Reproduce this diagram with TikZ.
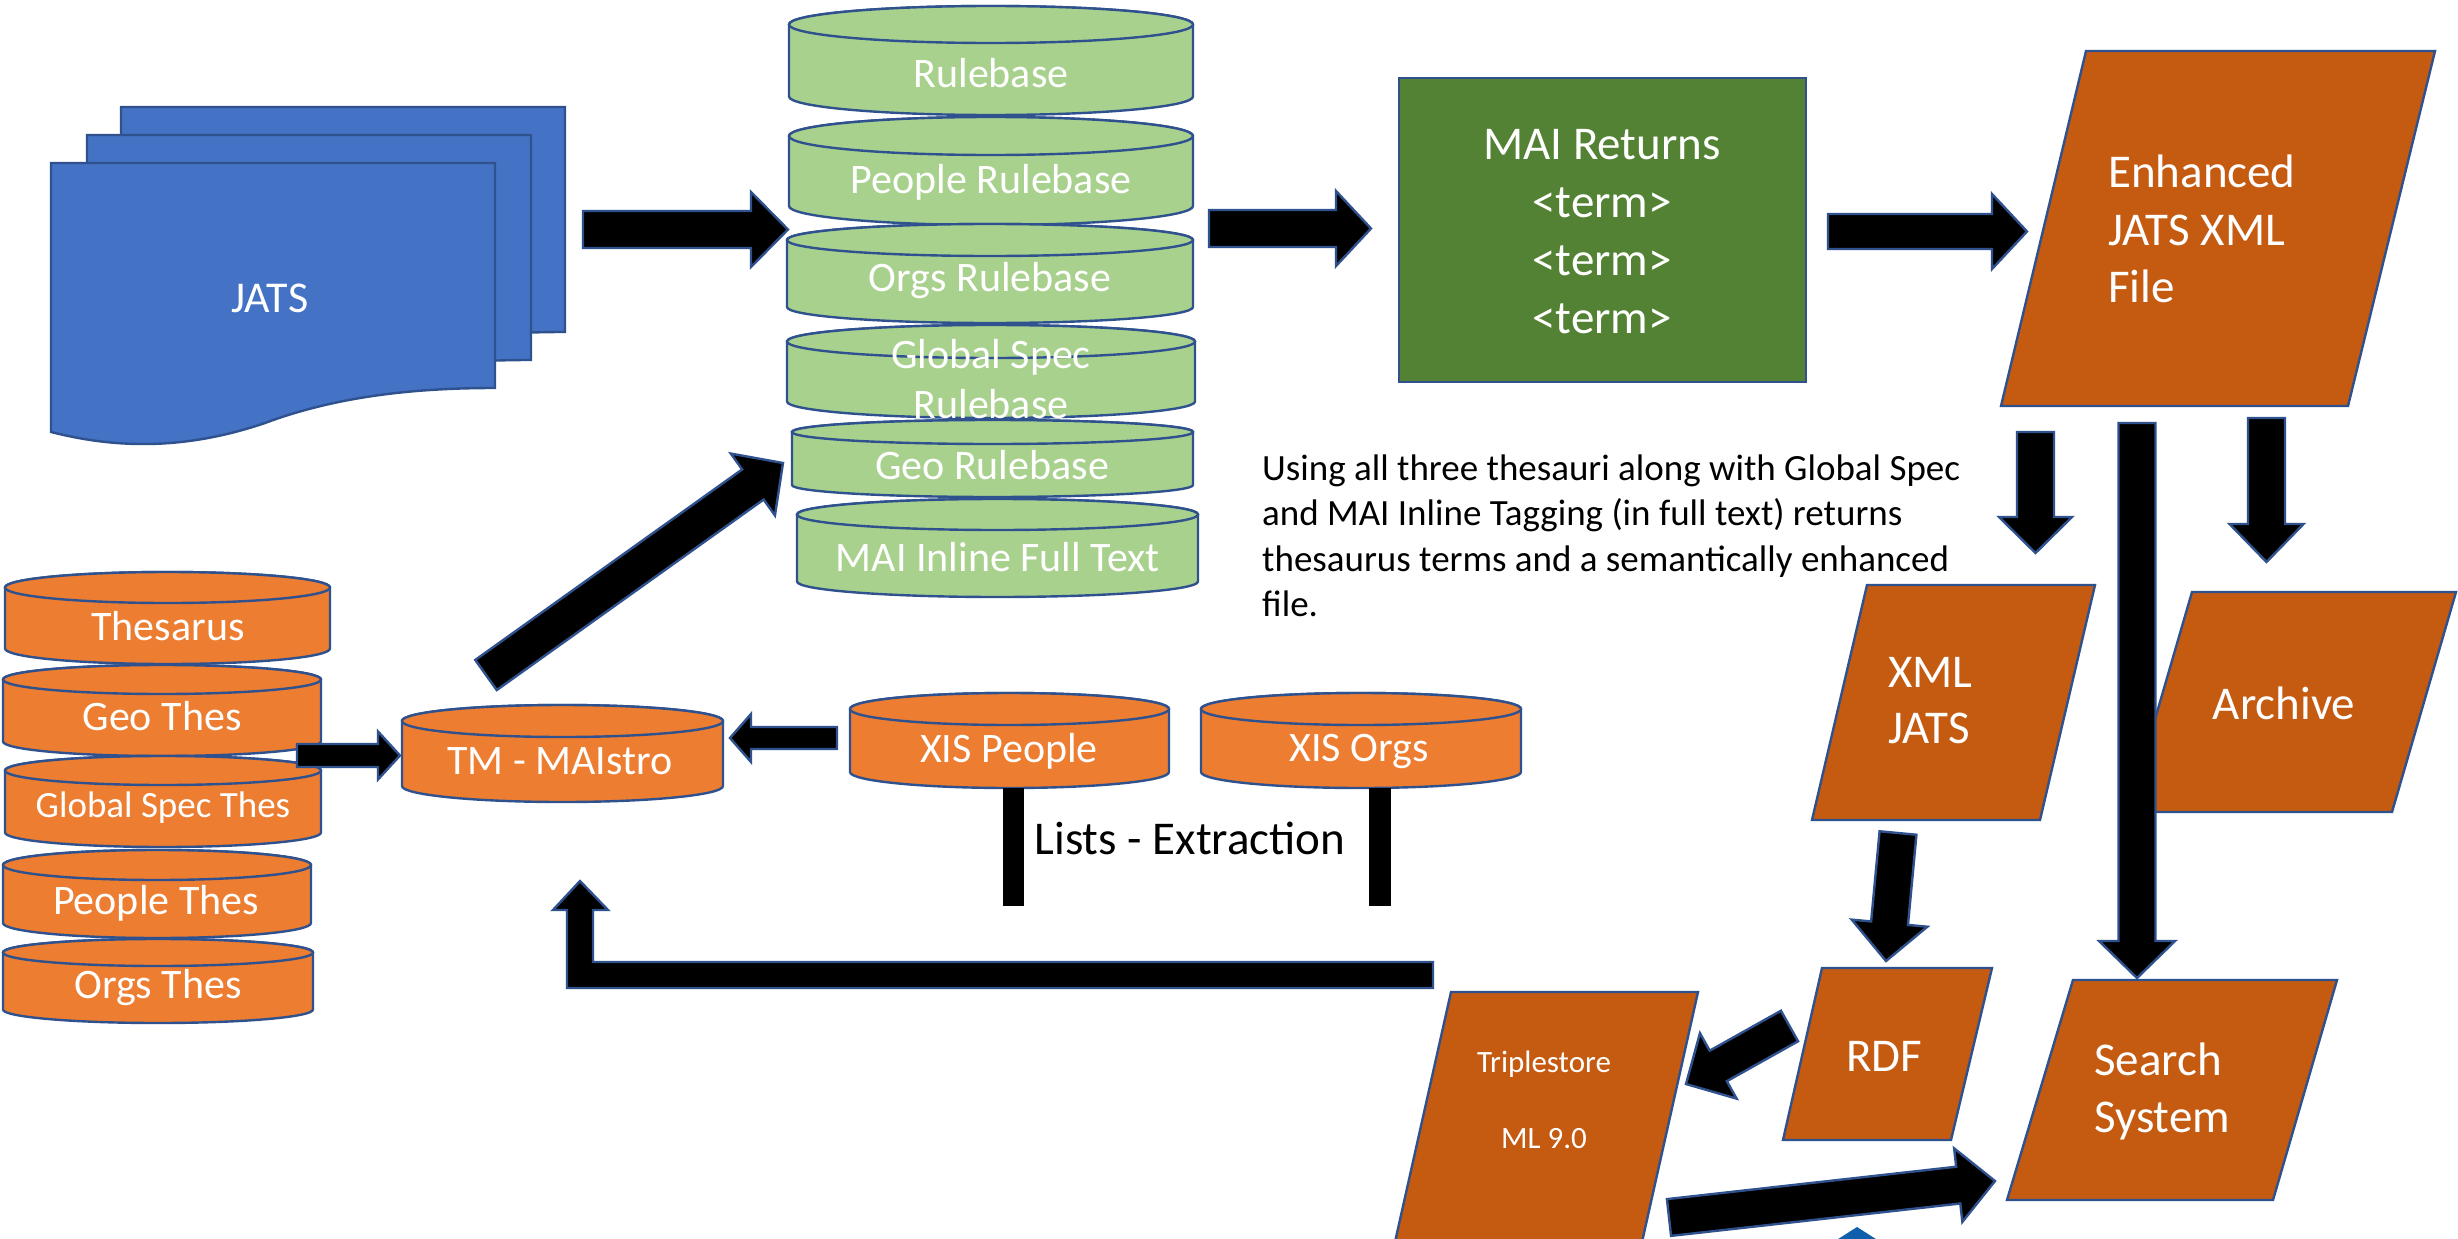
\documentclass[tikz,border=0pt]{standalone}
\usepackage{fontspec}
\setmainfont{Carlito}
\usetikzlibrary{calc}
\definecolor{jblue}{HTML}{4472C4}
\definecolor{oline}{HTML}{2F528F}
\definecolor{lgreen}{HTML}{A9D18E}
\definecolor{dgreen}{HTML}{548235}
\definecolor{orng}{HTML}{ED7D31}
\definecolor{dorng}{HTML}{C55A11}
\definecolor{tipblue}{HTML}{0F5FAA}
\tikzset{
 shp/.style={draw=oline, line width=2.4pt, line join=miter},
 barrowsty/.style={fill=black, draw=oline, line width=2.4pt, line join=miter},
 lbl/.style={text=white, inner sep=0pt, font=\fontsize{42}{51}\selectfont},
 big/.style={text=white, inner sep=0pt, font=\fontsize{47}{57.5}\selectfont},
 note/.style={text=black, inner sep=0pt, font=\fontsize{37}{45.5}\selectfont, align=left},
}
\newcommand\cylshape[6]{%
 \pgfmathsetmacro\cylcx{(#1+#3)/2}\pgfmathsetmacro\cylrx{(#3-#1)/2}%
 \draw[shp, fill=#6] (#1,#2+#5) -- (#1,#4-#5) arc[start angle=180, end angle=360, x radius=\cylrx pt, y radius=#5pt] -- (#3,#2+#5) arc[start angle=0, end angle=180, x radius=\cylrx pt, y radius=#5pt] -- cycle;
 \draw[shp, fill=#6] (\cylcx,#2+#5) ellipse[x radius=\cylrx pt, y radius=#5pt];
}
\newcommand\barrow[5]{%
 \coordinate (bah) at ($(#2)!#5pt!(#1)$);
 \draw[barrowsty] ($(#1)!#3pt!90:(#2)$) -- ($(bah)!#3pt!90:(#2)$) -- ($(bah)!#4pt!90:(#2)$) -- (#2) -- ($(bah)!#4pt!-90:(#2)$) -- ($(bah)!#3pt!-90:(#2)$) -- ($(#1)!#3pt!-90:(#2)$) -- cycle;
}
\newcommand\jatspage[2]{%
 \draw[shp, fill=jblue, shift={(#1,#2)}] (51,163) -- (495,163) -- (495,388) .. controls (420,388) and (340,395) .. (265,423) .. controls (180,452) and (110,447) .. (51,432) -- cycle;
}
\begin{document}
\begin{tikzpicture}[x=1pt,y=-1pt]
\useasboundingbox (0,0) rectangle (2458,1239);
\clip (0,0) rectangle (2458,1239);
\fill[white] (0,0) rectangle (2458,1239);

% JATS stack
\jatspage{70}{-56}
\jatspage{36}{-28}
\jatspage{0}{0}
\node[text=white, inner sep=0pt, font=\fontsize{44}{53}\selectfont] (jats) at (270,298) {JATS};

% green rulebase stack
\cylshape{789}{6}{1193}{115}{18.5}{lgreen}
\node[lbl] (rb) at (991,73) {Rulebase};
\cylshape{789}{117}{1193}{225}{19}{lgreen}
\node[lbl] (prb) at (991,182) {People Rulebase};
\cylshape{787}{224}{1193}{323}{16}{lgreen}
\node[lbl] (orb) at (990,281) {Orgs Rulebase};
\cylshape{787}{325}{1195}{418}{16.5}{lgreen}
\node[lbl, align=center, font=\fontsize{42}{50}\selectfont] (grb) at (991,379) {Global Spec\\Rulebase};
\cylshape{792}{420}{1193}{497}{12}{lgreen}
\node[lbl] (georb) at (992,465) {Geo Rulebase};
\cylshape{797}{499}{1198}{597}{15.5}{lgreen}
\node[lbl] (mai) at (998,557) {MAI Inline Full Text};

% MAI returns box
\draw[shp, fill=dgreen] (1399,78) rectangle (1806,382);
\node[big, align=center, font=\fontsize{47}{58}\selectfont] (ret) at (1602,232) {MAI Returns\\<term>\\<term>\\<term>};

% parallelograms
\draw[shp, fill=dorng] (2086,51) -- (2435,51) -- (2348,406) -- (2001,406) -- cycle;
\node[big, align=left, anchor=west] (enh) at (2108,229) {Enhanced\\JATS XML\\File};
\draw[shp, fill=dorng] (1867,585) -- (2095,585) -- (2040,820) -- (1812,820) -- cycle;
\node[big, align=left, anchor=west, font=\fontsize{47}{56}\selectfont] (xml) at (1888,701) {XML\\JATS};
\draw[shp, fill=dorng] (2192,592) -- (2456,592) -- (2392,812) -- (2128,812) -- cycle;
\node[big] (arch) at (2284,703) {Archive};
\draw[shp, fill=dorng] (1822,968) -- (1992,968) -- (1951,1140) -- (1783,1140) -- cycle;
\node[big] (rdf) at (1884,1056) {RDF};
\draw[shp, fill=dorng] (2073,980) -- (2337,980) -- (2273,1200) -- (2007,1200) -- cycle;
\node[big, align=left, anchor=west, font=\fontsize{47}{57}\selectfont] (srch) at (2094,1091) {Search\\System};
\draw[shp, fill=dorng] (1451,992) -- (1698,992) -- (1629,1300) -- (1382,1300) -- cycle;
\node[text=white, inner sep=0pt, align=center, font=\fontsize{31}{38}\selectfont] (trip) at (1544,1100) {Triplestore\\[38pt]ML 9.0};

% blue tip at the bottom
\fill[tipblue] (1857,1227) -- (1890,1248) -- (1824,1248) -- cycle;

% note text
\node[note, anchor=west] (using) at (1262,536) {Using all three thesauri along with Global Spec\\and MAI Inline Tagging (in full text) returns\\thesaurus terms and a semantically enhanced\\file.};

% orange thesaurus stack
\cylshape{5}{572}{330}{664}{15.5}{orng}
\node[lbl] (thes) at (168,626) {Thesarus};
\cylshape{3}{665}{321}{756}{14.5}{orng}
\node[lbl] (geot) at (162,716) {Geo Thes};
\cylshape{5}{756}{321}{847}{14.5}{orng}
\node[lbl, font=\fontsize{37}{45}\selectfont] (globt) at (163,808) {Global Spec Thes};
\cylshape{3}{850}{311}{938}{15}{orng}
\node[lbl] (peot) at (156,903) {People Thes};
\cylshape{3}{939}{313}{1023}{13.5}{orng}
\node[lbl] (orgt) at (158,988) {Orgs Thes};

% TM and XIS
\cylshape{402}{705}{723}{802}{16}{orng}
\node[lbl] (tm) at (560,761) {TM - MAIstro};
\cylshape{850}{693}{1169}{788}{16}{orng}
\node[lbl] (xisp) at (1009,751) {XIS People};
\cylshape{1201}{693}{1521}{788}{16}{orng}
\node[lbl] (xiso) at (1359,751) {XIS Orgs};

% lists bars and label
\coordinate (lb1a) at (1013.5,788); \coordinate (lb1b) at (1013.5,906);
\coordinate (lb2a) at (1379.5,788); \coordinate (lb2b) at (1379.5,906);
\draw[line width=21pt] (lb1a) -- (lb1b);
\draw[line width=22pt] (lb2a) -- (lb2b);
\node[text=black, inner sep=0pt, font=\fontsize{47}{57}\selectfont] (lists) at (1190,838) {Lists - Extraction};

% return elbow arrow
\draw[barrowsty] (1433,962) -- (593,962) -- (593,910) -- (608,910) -- (580,881) -- (553,910) -- (567,910) -- (567,988) -- (1433,988) -- cycle;

% block arrows
\coordinate (a1s) at (583,229.5); \coordinate (a1e) at (788,229.5);
\barrow{a1s}{a1e}{18.5}{37.5}{37}
\coordinate (a2s) at (1209,228.5); \coordinate (a2e) at (1371,228.5);
\barrow{a2s}{a2e}{18.5}{37.5}{35}
\coordinate (a3s) at (1828,231.5); \coordinate (a3e) at (2027,231.5);
\barrow{a3s}{a3e}{17.5}{37.5}{35}
\coordinate (a4s) at (2035.5,432); \coordinate (a4e) at (2035.5,553);
\barrow{a4s}{a4e}{18.5}{36.5}{36}
\coordinate (a5s) at (2266.5,418); \coordinate (a5e) at (2266.5,562);
\barrow{a5s}{a5e}{18.5}{37}{38}
\coordinate (a6s) at (2137,423); \coordinate (a6e) at (2137,978);
\barrow{a6s}{a6e}{18.5}{38}{37}
\coordinate (a7s) at (1898,833); \coordinate (a7e) at (1886,961);
\barrow{a7s}{a7e}{18.5}{38}{38}
\coordinate (a8s) at (1789.5,1026); \coordinate (a8e) at (1686,1084);
\barrow{a8s}{a8e}{17.5}{37.5}{37}
\coordinate (a9s) at (1669,1217.5); \coordinate (a9e) at (1995,1181);
\barrow{a9s}{a9e}{18.5}{37}{37}
\coordinate (a10s) at (486,675); \coordinate (a10e) at (783,463);
\barrow{a10s}{a10e}{18.5}{38}{37}
\coordinate (a11s) at (297,755.5); \coordinate (a11e) at (400,755.5);
\barrow{a11s}{a11e}{11.5}{24}{22}
\coordinate (a12s) at (837,738); \coordinate (a12e) at (730,738);
\barrow{a12s}{a12e}{11}{24}{21}
\end{tikzpicture}
\end{document}
